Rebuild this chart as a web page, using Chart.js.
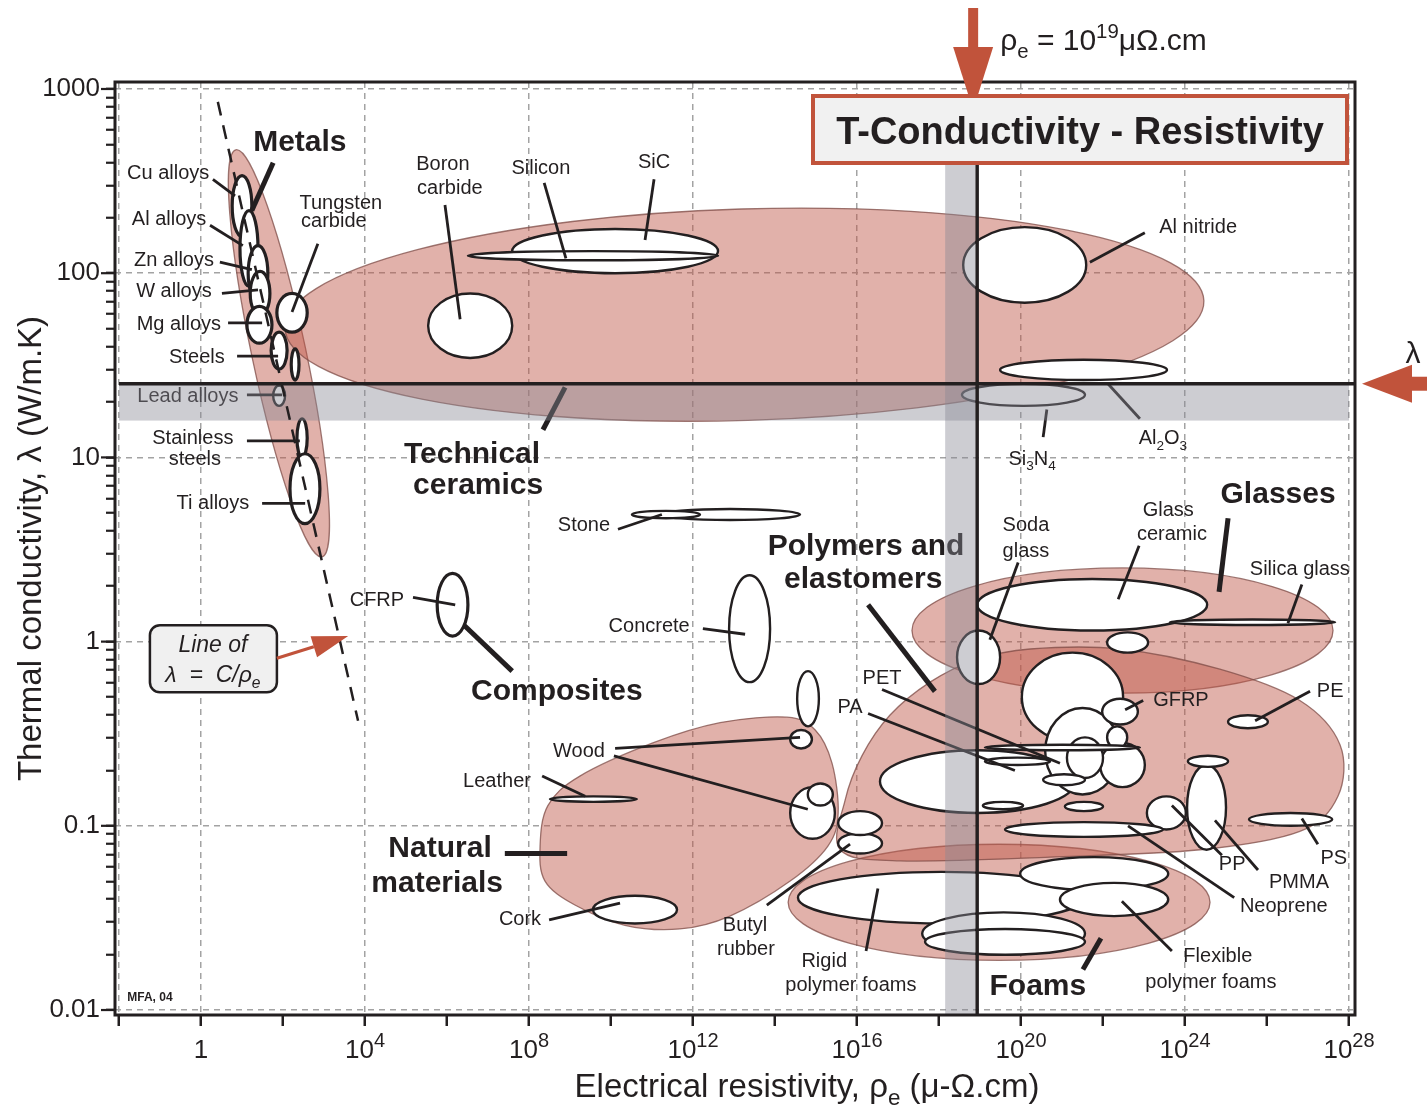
<!DOCTYPE html>
<html lang="en">
<head>
<meta charset="utf-8">
<title>T-Conductivity - Resistivity</title>
<script src="https://cdn.jsdelivr.net/npm/chart.js@4.4.1/dist/chart.umd.min.js"></script>
<style>
  html, body { margin: 0; padding: 0; background: #ffffff; }
  #box { position: relative; width: 1427px; height: 1110px; }
</style>
</head>
<body>
<div id="box"><canvas id="ashby"></canvas></div>
<script>
// every value is a log10: x = electrical resistivity (µΩ.cm), y = thermal conductivity (W/m.K)
const xTickValues = [-2, 0, 2, 4, 6, 8, 10, 12, 14, 16, 18, 20, 22, 24, 26, 28];
const xGridValues = [-2, 0, 4, 8, 12, 16, 20, 24, 28];
const xLabelValues = [0, 4, 8, 12, 16, 20, 24, 28];
const yDecades = [-2, -1, 0, 1, 2, 3];
const yDecadeLabels = ["0.01", "0.1", "1", "10", "100", "1000"];
const yMinorFactors = [2, 3, 4, 5, 6, 7, 8, 9];

// limits marked on the chart
const rhoLimit = 18.93;        // rho_e ~ 10^19
const rhoLineTop = 2.6;
const lambdaLimit = 1.40;      // lambda ~ 25 W/m.K
const rhoBand = [18.15, 18.88];
const lambdaBand = [1.20, 1.40];

// line of lambda = C / rho_e
const wfLine = [[0.41, 2.93], [3.83, -0.43]];
const wfNote = [0.29, -0.09];
const wfArrow = [[1.85, -0.09], [3.59, 0.03]];

// family envelopes
// tilted: name, tip 1 (x, y), tip 2 (x, y), minor / major
const familyTilted = [
  ["Metals", 0.85, 2.67, 2.95, 0.46, 0.13],
  ["Technical ceramics", 2.05, 1.70, 24.46, 1.85, 0.23]
];
// name, x from, x to, y from, y to
const familyRanges = [
  ["Glasses", 17.34, 27.61, -0.28, 0.40],
  ["Foams", 14.32, 24.61, -1.73, -1.10]
];
const naturalOutline = [
  [8.27, -1.11], [8.46, -0.89], [9.24, -0.73], [11.02, -0.55], [12.66, -0.44], [14.29, -0.41],
  [14.98, -0.48], [15.39, -0.66], [15.54, -0.93], [15.29, -1.11], [14.37, -1.30], [12.90, -1.49],
  [11.68, -1.56], [10.34, -1.54], [9.12, -1.43], [8.39, -1.30]
];
const polymerOutline = [
  [15.59, -1.13], [15.71, -0.86], [16.12, -0.62], [16.80, -0.40], [17.78, -0.22], [18.88, -0.10],
  [20.22, -0.04], [22.41, -0.04], [24.85, -0.15], [26.80, -0.32], [27.78, -0.56], [27.73, -0.84],
  [26.80, -1.03], [24.37, -1.13], [20.71, -1.17], [17.05, -1.19]
];

// material bubbles: name, x from, x to, y from, y to
const materials = [
  ["Cu alloys", 0.76, 1.24, 2.20, 2.53],
  ["Al alloys", 0.95, 1.39, 1.93, 2.34],
  ["Zn alloys", 1.15, 1.63, 1.85, 2.15],
  ["W alloys", 1.20, 1.68, 1.77, 2.01],
  ["Mg alloys", 1.12, 1.73, 1.62, 1.82],
  ["Steels", 1.71, 2.10, 1.48, 1.68],
  ["Ni alloys", 2.20, 2.39, 1.42, 1.59],
  ["Lead alloys", 1.76, 2.05, 1.28, 1.39],
  ["Stainless steels", 2.34, 2.59, 1.00, 1.21],
  ["Ti alloys", 2.17, 2.90, 0.64, 1.02],
  ["Tungsten carbide", 1.85, 2.59, 1.68, 1.89],
  ["Boron carbide", 5.54, 7.59, 1.54, 1.89],
  ["SiC", 7.59, 12.61, 2.00, 2.24],
  ["Silicon", 6.51, 12.61, 2.07, 2.12],
  ["Al nitride", 18.59, 21.59, 1.84, 2.25],
  ["Al2O3", 19.49, 23.56, 1.42, 1.53],
  ["Si3N4", 18.56, 21.56, 1.28, 1.40],
  ["Stone", 11.20, 14.61, 0.66, 0.72],
  ["Stone, low", 10.51, 12.17, 0.67, 0.71],
  ["Concrete", 12.88, 13.88, -0.22, 0.36],
  ["CFRP", 5.76, 6.51, 0.03, 0.37],
  ["unlabelled", 14.54, 15.07, -0.46, -0.16],
  ["Wood, along grain", 14.37, 14.90, -0.58, -0.48],
  ["Wood", 14.37, 15.46, -1.07, -0.79],
  ["Wood, small", 14.80, 15.41, -0.89, -0.77],
  ["Leather", 8.51, 10.63, -0.87, -0.84],
  ["Cork", 9.56, 11.61, -1.53, -1.38],
  ["Butyl rubber, low", 15.54, 16.61, -1.15, -1.04],
  ["Butyl rubber", 15.54, 16.61, -1.05, -0.92],
  ["PA", 16.56, 21.32, -0.93, -0.59],
  ["PC", 20.02, 22.49, -0.54, -0.06],
  ["ABS", 20.59, 22.41, -0.83, -0.36],
  ["PTFE", 21.93, 23.02, -0.79, -0.55],
  ["PEEK", 21.12, 22.00, -0.74, -0.52],
  ["Epoxies", 22.10, 22.59, -0.58, -0.46],
  ["GFRP", 21.98, 22.85, -0.45, -0.31],
  ["EVA", 20.54, 21.56, -0.78, -0.72],
  ["Ionomer", 21.07, 22.00, -0.92, -0.87],
  ["Polyester", 19.07, 20.05, -0.91, -0.87],
  ["PET", 19.12, 22.90, -0.59, -0.56],
  ["PA, thin", 19.12, 20.71, -0.67, -0.63],
  ["Glass ceramic", 18.93, 24.54, 0.06, 0.34],
  ["Soda glass", 18.44, 19.49, -0.23, 0.06],
  ["Silica glass", 23.63, 27.66, 0.09, 0.12],
  ["Borosilicate glass", 22.10, 23.10, -0.06, 0.05],
  ["PE", 25.05, 26.02, -0.47, -0.40],
  ["PP", 23.07, 24.02, -1.02, -0.84],
  ["PMMA", 24.05, 25.00, -1.13, -0.67],
  ["PMMA, cap", 24.07, 25.05, -0.68, -0.62],
  ["PS", 25.56, 27.59, -1.00, -0.93],
  ["Neoprene", 19.61, 23.46, -1.06, -0.98],
  ["Rigid polymer foams", 14.56, 21.56, -1.53, -1.25],
  ["Foam, wide", 17.59, 21.56, -1.70, -1.47],
  ["Foam, wide inner", 17.66, 21.56, -1.70, -1.56],
  ["Flexible foam", 19.98, 23.59, -1.35, -1.17],
  ["Flexible foam, low", 20.95, 23.59, -1.49, -1.31]
];

// labels: text, x, y (centre)
const materialLabels = [
  ["Cu alloys", -0.80, 2.55], ["Al alloys", -0.78, 2.30], ["Zn alloys", -0.66, 2.08],
  ["W alloys", -0.66, 1.91], ["Mg alloys", -0.54, 1.73], ["Steels", -0.10, 1.55],
  ["Lead alloys", -0.32, 1.34], ["Stainless", -0.20, 1.11], ["steels", -0.15, 1.00],
  ["Ti alloys", 0.29, 0.76], ["Tungsten", 3.41, 2.39], ["carbide", 3.24, 2.29],
  ["Boron", 5.90, 2.60], ["carbide", 6.07, 2.47], ["Silicon", 8.29, 2.58], ["SiC", 11.05, 2.61],
  ["Al nitride", 24.32, 2.26], ["Al_2O_3", 23.46, 1.11], ["Si_3N_4", 20.27, 1.00],
  ["Stone", 9.34, 0.64], ["CFRP", 4.29, 0.23], ["Concrete", 10.93, 0.09], ["Wood", 9.22, -0.59],
  ["Leather", 7.22, -0.75], ["Cork", 7.78, -1.50], ["Butyl", 13.27, -1.53], ["rubber", 13.29, -1.66],
  ["Rigid", 15.20, -1.73], ["polymer foams", 15.85, -1.86], ["Soda", 20.12, 0.64], ["glass", 20.12, 0.50],
  ["Glass", 23.59, 0.72], ["ceramic", 23.68, 0.59], ["Silica glass", 26.80, 0.40],
  ["PET", 16.61, -0.19], ["PA", 15.83, -0.35], ["GFRP", 23.90, -0.31], ["PE", 27.54, -0.26],
  ["PP", 25.15, -1.20], ["PMMA", 26.78, -1.30], ["Neoprene", 26.41, -1.43], ["PS", 27.63, -1.17],
  ["Flexible", 24.80, -1.70], ["polymer foams", 24.63, -1.84]
];
const familyLabels = [
  ["Metals", 2.41, 2.72], ["Technical", 6.61, 1.03], ["ceramics", 6.76, 0.86],
  ["Composites", 8.68, -0.26], ["Natural", 5.83, -1.11], ["materials", 5.76, -1.30],
  ["Polymers and", 16.22, 0.53], ["elastomers", 16.15, 0.35], ["Glasses", 26.27, 0.81],
  ["Foams", 20.41, -1.86]
];
// leader lines: x1, y1, x2, y2
const materialLeaders = [
  [0.29, 2.51, 0.83, 2.42], [0.22, 2.26, 1.02, 2.15], [0.46, 2.06, 1.24, 2.02],
  [0.51, 1.89, 1.39, 1.91], [0.66, 1.73, 1.49, 1.73], [0.88, 1.55, 1.88, 1.55],
  [1.12, 1.34, 1.98, 1.34], [1.12, 1.09, 2.41, 1.09], [1.49, 0.75, 2.54, 0.75],
  [2.85, 2.16, 2.22, 1.79], [5.95, 2.37, 6.32, 1.75], [8.37, 2.49, 8.90, 2.08],
  [11.05, 2.51, 10.83, 2.18], [23.02, 2.22, 21.68, 2.06], [22.90, 1.21, 22.12, 1.40],
  [20.54, 1.11, 20.63, 1.26], [10.17, 0.61, 11.24, 0.69], [5.17, 0.24, 6.20, 0.20],
  [12.24, 0.07, 13.27, 0.04], [10.10, -0.58, 14.61, -0.52], [10.07, -0.62, 14.80, -0.91],
  [8.32, -0.73, 9.37, -0.84], [8.49, -1.51, 10.22, -1.42], [13.80, -1.43, 15.83, -1.10],
  [16.22, -1.68, 16.51, -1.34], [19.93, 0.43, 19.24, 0.01], [22.88, 0.52, 22.37, 0.23],
  [26.85, 0.31, 26.51, 0.10], [16.61, -0.26, 20.95, -0.66], [16.27, -0.39, 19.85, -0.70],
  [22.98, -0.32, 22.54, -0.37], [27.05, -0.27, 25.71, -0.43], [24.90, -1.16, 23.68, -0.89],
  [25.78, -1.24, 24.73, -0.97], [25.20, -1.39, 22.61, -1.00], [27.24, -1.10, 26.85, -0.96],
  [23.68, -1.68, 22.46, -1.41]
];
const familyLeaders = [
  [1.76, 2.60, 1.24, 2.34], [8.88, 1.38, 8.34, 1.15], [6.41, 0.09, 7.59, -0.16],
  [7.41, -1.15, 8.93, -1.15], [16.27, 0.20, 17.90, -0.27], [25.05, 0.67, 24.83, 0.27],
  [21.51, -1.78, 21.95, -1.61]
];
const creditNote = ["MFA, 04", -1.80, -1.93];

const TEXT = "#231f20";
const RED = "#c1533b";
const GRID = "#a3a3a3";
const FONT = '"Liberation Sans", Arial, Helvetica, sans-serif';
// bubbles drawn with a heavier outline
const heavyOutline = new Set(["Cu alloys", "Al alloys", "Zn alloys", "W alloys", "Mg alloys", "Steels",
  "Ni alloys", "Stainless steels", "Ti alloys", "Tungsten carbide", "CFRP"]);

function parseRich(str) {
  const segs = [];
  let buf = "";
  let i = 0;
  while (i < str.length) {
    const c = str[i];
    if ((c === "_" || c === "^") && i + 1 < str.length) {
      if (buf) { segs.push({ t: buf, m: 0 }); buf = ""; }
      let t;
      if (str[i + 1] === "{") {
        const j = str.indexOf("}", i);
        t = str.slice(i + 2, j);
        i = j + 1;
      } else {
        t = str[i + 1];
        i += 2;
      }
      segs.push({ t: t, m: c === "_" ? 1 : -1 });
    } else {
      buf += c;
      i++;
    }
  }
  if (buf) segs.push({ t: buf, m: 0 });
  return segs;
}

// text with _sub and ^{sup}, y is the middle of the line
function drawRich(ctx, str, x, y, size, opts) {
  opts = opts || {};
  const scale = opts.scriptScale || 0.68;
  const pre = (opts.italic ? "italic " : "") + (opts.bold ? "bold " : "");
  const segs = parseRich(str);
  let total = 0;
  segs.forEach(s => {
    ctx.font = pre + (s.m ? size * scale : size) + "px " + FONT;
    s.w = ctx.measureText(s.t).width;
    total += s.w;
  });
  let cx = opts.align === "left" ? x : opts.align === "right" ? x - total : x - total / 2;
  const base = y + size * 0.36;
  const raise = opts.raise != null ? opts.raise : size * 0.4;
  ctx.textAlign = "left";
  ctx.textBaseline = "alphabetic";
  segs.forEach(s => {
    ctx.font = pre + (s.m ? size * scale : size) + "px " + FONT;
    const dy = s.m === 1 ? size * 0.26 : s.m === -1 ? -raise : 0;
    ctx.fillText(s.t, cx, base + dy);
    cx += s.w;
  });
}

function closedSpline(ctx, pts) {
  const n = pts.length;
  ctx.moveTo(pts[0].x, pts[0].y);
  for (let i = 0; i < n; i++) {
    const p0 = pts[(i - 1 + n) % n], p1 = pts[i], p2 = pts[(i + 1) % n], p3 = pts[(i + 2) % n];
    ctx.bezierCurveTo(
      p1.x + (p2.x - p0.x) / 6, p1.y + (p2.y - p0.y) / 6,
      p2.x - (p3.x - p1.x) / 6, p2.y - (p3.y - p1.y) / 6,
      p2.x, p2.y
    );
  }
  ctx.closePath();
}

function arrow(ctx, x1, y1, x2, y2, head, half, width) {
  const ang = Math.atan2(y2 - y1, x2 - x1);
  const bx = x2 - head * Math.cos(ang), by = y2 - head * Math.sin(ang);
  ctx.lineWidth = width;
  ctx.beginPath();
  ctx.moveTo(x1, y1);
  ctx.lineTo(bx, by);
  ctx.stroke();
  ctx.beginPath();
  ctx.moveTo(x2, y2);
  ctx.lineTo(bx + half * Math.sin(ang), by - half * Math.cos(ang));
  ctx.lineTo(bx - half * Math.sin(ang), by + half * Math.cos(ang));
  ctx.closePath();
  ctx.fill();
}

const isMajor = v => Math.abs(v - Math.round(v)) < 1e-6;
const yTickValues = [];
yDecades.forEach(d => {
  yTickValues.push(d);
  if (d < 3) yMinorFactors.forEach(f => yTickValues.push(d + Math.log10(f)));
});

const ashbyPlugin = {
  id: "ashby",
  beforeDatasetsDraw(chart) {
    const { ctx, chartArea: area, scales: { x, y } } = chart;
    const px = v => x.getPixelForValue(v), py = v => y.getPixelForValue(v);
    ctx.save();
    ctx.beginPath();
    ctx.rect(area.left, area.top, area.width, area.height);
    ctx.clip();

    // envelopes
    ctx.fillStyle = "rgba(190, 85, 70, 0.46)";
    ctx.strokeStyle = "rgba(125, 75, 70, 0.75)";
    ctx.lineWidth = 1.3;
    familyTilted.forEach(([, x1, y1, x2, y2, ratio]) => {
      const ax = px(x1), ay = py(y1), bx = px(x2), by = py(y2);
      const a = Math.hypot(bx - ax, by - ay) / 2;
      ctx.beginPath();
      ctx.ellipse((ax + bx) / 2, (ay + by) / 2, a, a * ratio, Math.atan2(by - ay, bx - ax), 0, Math.PI * 2);
      ctx.fill();
      ctx.stroke();
    });
    familyRanges.forEach(([, x0, x1, y0, y1]) => {
      ctx.beginPath();
      ctx.ellipse((px(x0) + px(x1)) / 2, (py(y0) + py(y1)) / 2,
        Math.abs(px(x1) - px(x0)) / 2, Math.abs(py(y1) - py(y0)) / 2, 0, 0, Math.PI * 2);
      ctx.fill();
      ctx.stroke();
    });
    [naturalOutline, polymerOutline].forEach(outline => {
      ctx.beginPath();
      closedSpline(ctx, outline.map(([a, b]) => ({ x: px(a), y: py(b) })));
      ctx.fill();
      ctx.stroke();
    });

    // material bubbles
    ctx.fillStyle = "#ffffff";
    ctx.strokeStyle = TEXT;
    materials.forEach(([name, x0, x1, y0, y1]) => {
      ctx.lineWidth = heavyOutline.has(name) ? 3.2 : 2.4;
      ctx.beginPath();
      ctx.ellipse((px(x0) + px(x1)) / 2, (py(y0) + py(y1)) / 2,
        Math.abs(px(x1) - px(x0)) / 2, Math.abs(py(y1) - py(y0)) / 2, 0, 0, Math.PI * 2);
      ctx.fill();
      ctx.stroke();
    });

    // leaders and labels
    ctx.lineCap = "butt";
    ctx.lineWidth = 2.8;
    materialLeaders.forEach(([a, b, c, d]) => {
      ctx.beginPath();
      ctx.moveTo(px(a), py(b));
      ctx.lineTo(px(c), py(d));
      ctx.stroke();
    });
    ctx.lineWidth = 5;
    familyLeaders.forEach(([a, b, c, d]) => {
      ctx.beginPath();
      ctx.moveTo(px(a), py(b));
      ctx.lineTo(px(c), py(d));
      ctx.stroke();
    });
    ctx.fillStyle = TEXT;
    materialLabels.forEach(([t, a, b]) => drawRich(ctx, t, px(a), py(b), 20));
    familyLabels.forEach(([t, a, b]) => drawRich(ctx, t, px(a), py(b), 30, { bold: true }));
    drawRich(ctx, creditNote[0], px(creditNote[1]), py(creditNote[2]), 12, { bold: true, align: "left" });

    // shaded bands
    ctx.fillStyle = "rgba(135, 135, 148, 0.42)";
    ctx.fillRect(px(rhoBand[0]), py(rhoLineTop), px(rhoBand[1]) - px(rhoBand[0]), area.bottom - py(rhoLineTop));
    const x0 = px(xTickValues[0]), x1 = px(xTickValues[xTickValues.length - 1]);
    ctx.fillRect(x0, py(lambdaBand[1]), x1 - x0, py(lambdaBand[0]) - py(lambdaBand[1]));
    ctx.restore();
  },
  afterDraw(chart) {
    const { ctx, chartArea: area, scales: { x, y } } = chart;
    const px = v => x.getPixelForValue(v), py = v => y.getPixelForValue(v);
    ctx.save();

    // frame, with longer marks on the decades
    ctx.strokeStyle = TEXT;
    ctx.lineWidth = 3;
    ctx.strokeRect(area.left, area.top, area.width, area.height);
    ctx.lineWidth = 2.2;
    yDecades.forEach(d => {
      ctx.beginPath();
      ctx.moveTo(area.left - 14, py(d));
      ctx.lineTo(area.left, py(d));
      ctx.stroke();
    });

    // x tick labels and title
    ctx.fillStyle = TEXT;
    xLabelValues.forEach(v => {
      const label = v === 0 ? "1" : "10^{" + v + "}";
      drawRich(ctx, label, px(v), area.bottom + 34, 26, { scriptScale: 0.77, raise: 11 });
    });
    drawRich(ctx, "Electrical resistivity, ρ_e (μ-Ω.cm)", (area.left + area.right) / 2 + 72, area.bottom + 70, 33);

    // note for the line of lambda = C / rho
    const nx = px(wfNote[0]), ny = py(wfNote[1]);
    ctx.beginPath();
    ctx.roundRect(nx - 63, ny - 33, 127, 67, 10);
    ctx.fillStyle = "#f0f0f0";
    ctx.fill();
    ctx.lineWidth = 2.5;
    ctx.strokeStyle = TEXT;
    ctx.stroke();
    ctx.fillStyle = TEXT;
    drawRich(ctx, "Line of", nx, ny - 14, 23, { italic: true });
    drawRich(ctx, "λ  =  C/ρ_e", nx, ny + 16, 23, { italic: true });
    ctx.fillStyle = RED;
    ctx.strokeStyle = RED;
    arrow(ctx, px(wfArrow[0][0]), py(wfArrow[0][1]), px(wfArrow[1][0]), py(wfArrow[1][1]), 36, 11, 3);

    // lambda limit arrow
    const ly = py(lambdaLimit);
    arrow(ctx, chart.width, ly, area.right + 7, ly, 50, 19, 14);
    ctx.fillStyle = TEXT;
    drawRich(ctx, "λ", area.right + 58, ly - 32, 30);

    // rho limit arrow
    const ax = px(rhoLimit) - 4;
    ctx.fillStyle = RED;
    arrow(ctx, ax, 8, ax, area.top + 28, 63, 20, 10);
    ctx.fillStyle = TEXT;
    drawRich(ctx, "ρ_e = 10^{19}μΩ.cm", ax + 27, 39, 30, { align: "left" });

    // title box
    const tl = area.right - 542, tt = area.top + 14;
    ctx.fillStyle = "#f1f1f1";
    ctx.fillRect(tl, tt, 534, 67);
    ctx.lineWidth = 4;
    ctx.strokeStyle = RED;
    ctx.strokeRect(tl, tt, 534, 67);
    ctx.fillStyle = TEXT;
    drawRich(ctx, "T-Conductivity - Resistivity", tl + 267, tt + 34, 38, { bold: true });
    ctx.restore();
  }
};

const lineStyle = { showLine: true, pointRadius: 0, borderColor: TEXT, fill: false };

new Chart(document.getElementById("ashby"), {
  type: "scatter",
  data: {
    datasets: [
      Object.assign({ label: "λ = C/ρe", data: wfLine.map(([a, b]) => ({ x: a, y: b })),
        borderWidth: 2.5, borderDash: [14, 10] }, lineStyle),
      Object.assign({ label: "ρe limit", data: [{ x: rhoLimit, y: rhoLineTop }, { x: rhoLimit, y: -2.03 }],
        borderWidth: 3.5 }, lineStyle),
      Object.assign({ label: "λ limit", data: [{ x: xTickValues[0], y: lambdaLimit }, { x: 28.15, y: lambdaLimit }],
        borderWidth: 3.5 }, lineStyle)
    ]
  },
  options: {
    responsive: true,
    maintainAspectRatio: false,
    devicePixelRatio: 1,
    animation: false,
    events: [],
    layout: { padding: { top: 82, right: 72, left: 0, bottom: 0 } },
    plugins: { legend: { display: false }, tooltip: { enabled: false } },
    scales: {
      x: {
        type: "linear",
        min: -2.098,
        max: 28.146,
        afterBuildTicks: s => { s.ticks = xTickValues.map(v => ({ value: v })); },
        afterFit: s => { s.height = 95; },
        ticks: { display: false },
        grid: {
          color: c => (c.tick && xGridValues.includes(c.tick.value)) ? GRID : "rgba(0,0,0,0)",
          lineWidth: 1.5,
          tickLength: 11,
          tickWidth: 2.5,
          tickColor: TEXT
        },
        border: { display: false, dash: [6, 5] }
      },
      y: {
        type: "linear",
        min: -2.027,
        max: 3.038,
        afterBuildTicks: s => { s.ticks = yTickValues.map(v => ({ value: v })); },
        afterFit: s => { s.width = 115; },
        ticks: {
          autoSkip: false,
          padding: 6,
          color: TEXT,
          font: { size: 26, family: FONT },
          callback: v => isMajor(v) ? yDecadeLabels[yDecades.indexOf(Math.round(v))] : ""
        },
        grid: {
          color: c => (c.tick && isMajor(c.tick.value)) ? GRID : "rgba(0,0,0,0)",
          lineWidth: 1.5,
          tickLength: 9,
          tickWidth: 2.2,
          tickColor: TEXT
        },
        border: { display: false, dash: [6, 5] },
        title: {
          display: true,
          text: "Thermal conductivity, λ (W/m.K)",
          color: TEXT,
          font: { size: 33, family: FONT },
          padding: { top: 12, bottom: 0 }
        }
      }
    }
  },
  plugins: [ashbyPlugin]
});
</script>
</body>
</html>
